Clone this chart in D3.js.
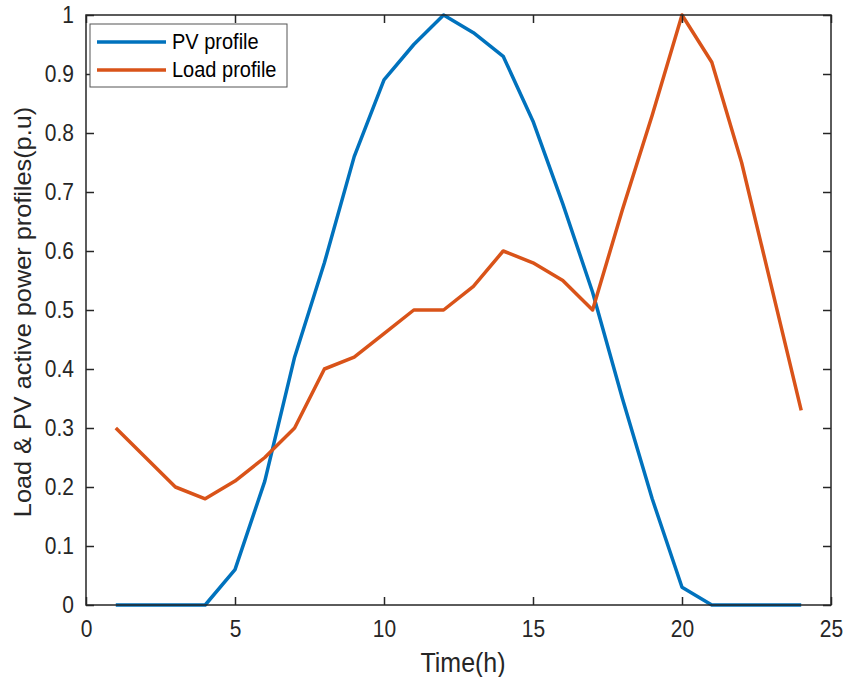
<!DOCTYPE html>
<html>
<head>
<meta charset="utf-8">
<script src="https://cdn.jsdelivr.net/npm/d3@7"></script>
<style>
  body { margin: 0; background: #fff; }
  text { font-family: "Liberation Sans", Arial, sans-serif; fill: #262626; }
</style>
</head>
<body>
<div id="chart"></div>
<script>
// hours 1..24
const hours = d3.range(1, 25);
const pvProfile = [0, 0, 0, 0, 0.06, 0.21, 0.42, 0.58, 0.76, 0.89, 0.95, 1.0,
                   0.97, 0.93, 0.82, 0.68, 0.53, 0.35, 0.18, 0.03, 0, 0, 0, 0];
const loadProfile = [0.30, 0.25, 0.20, 0.18, 0.21, 0.25, 0.30, 0.40, 0.42, 0.46, 0.50, 0.50,
                     0.54, 0.60, 0.58, 0.55, 0.50, 0.67, 0.83, 1.0, 0.92, 0.75, 0.54, 0.33];
const xTicks = [0, 5, 10, 15, 20, 25];
const yTicks = [0, 0.1, 0.2, 0.3, 0.4, 0.5, 0.6, 0.7, 0.8, 0.9, 1];
const seriesNames = ["PV profile", "Load profile"];
const seriesColors = ["#0072BD", "#D95319"];

const W = 845, H = 677;
const mLeft = 86, mRight = 831, mTop = 15, mBottom = 605;
const stretch = 1.1; // text in the picture is a bit taller than it is wide

const svg = d3.select('#chart')
  .append('svg')
  .attr('width', W)
  .attr('height', H);

const x = d3.scaleLinear().domain([0, 25]).range([mLeft, mRight]);
const y = d3.scaleLinear().domain([0, 1]).range([mBottom, mTop]);

// lines
const line = d3.line()
  .x((d, i) => x(hours[i]))
  .y(d => y(d));

[pvProfile, loadProfile].forEach((s, k) => {
  svg.append('path')
    .datum(s)
    .attr('fill', 'none')
    .attr('stroke', seriesColors[k])
    .attr('stroke-width', 3.5)
    .attr('stroke-linejoin', 'round')
    .attr('d', line);
});

// axes, ticks pointing inward on all four sides
const tickLen = 8;
const fmt = d => d === 0 || d === 1 ? String(d) : d3.format('.1f')(d);

// stretch a tick label vertically around its own anchor point
function tallText(g) {
  g.selectAll('.tick text').each(function () {
    const t = d3.select(this);
    const tx = +t.attr('x') || 0, ty = +t.attr('y') || 0;
    t.attr('transform', `translate(${tx},${ty}) scale(1,${stretch}) translate(${-tx},${-ty})`)
     .style('font-size', '21px');
  });
}

svg.append('g')
  .attr('transform', `translate(0,${mBottom})`)
  .call(d3.axisBottom(x).tickValues(xTicks).tickSize(-tickLen).tickPadding(16).tickSizeOuter(0))
  .call(tallText);

svg.append('g')
  .attr('transform', `translate(0,${mTop})`)
  .call(d3.axisTop(x).tickValues(xTicks).tickSize(-tickLen).tickFormat('').tickSizeOuter(0));

svg.append('g')
  .attr('transform', `translate(${mLeft},0)`)
  .call(d3.axisLeft(y).tickValues(yTicks).tickSize(-tickLen).tickPadding(12).tickFormat(fmt).tickSizeOuter(0))
  .call(tallText);

svg.append('g')
  .attr('transform', `translate(${mRight},0)`)
  .call(d3.axisRight(y).tickValues(yTicks).tickSize(-tickLen).tickFormat('').tickSizeOuter(0));

svg.selectAll('.domain').remove();
svg.selectAll('.tick line').attr('stroke', '#262626').attr('stroke-width', 1.5);

// box
svg.append('rect')
  .attr('x', mLeft).attr('y', mTop)
  .attr('width', mRight - mLeft).attr('height', mBottom - mTop)
  .attr('fill', 'none')
  .attr('stroke', '#262626')
  .attr('stroke-width', 1.5);

// axis labels
svg.append('text')
  .attr('transform', `translate(463,672) scale(1,${stretch})`)
  .attr('text-anchor', 'middle')
  .style('font-size', '25px')
  .text('Time(h)');

svg.append('text')
  .attr('transform', `translate(31,312) rotate(-90) scale(${stretch},1)`)
  .attr('text-anchor', 'middle')
  .style('font-size', '23px')
  .text('Load & PV active power profiles(p.u)');

// legend
const lg = svg.append('g');
lg.append('rect')
  .attr('x', 90).attr('y', 24)
  .attr('width', 197).attr('height', 63)
  .attr('fill', '#fff')
  .attr('stroke', '#555')
  .attr('stroke-width', 1);

seriesNames.forEach((name, k) => {
  const yy = 42 + k * 28;
  lg.append('line')
    .attr('x1', 97).attr('x2', 166)
    .attr('y1', yy).attr('y2', yy)
    .attr('stroke', seriesColors[k])
    .attr('stroke-width', 3.5);
  lg.append('text')
    .attr('transform', `translate(172,${yy + 7}) scale(1,${stretch})`)
    .style('font-size', '20px')
    .style('fill', '#000')
    .text(name);
});
</script>
</body>
</html>
